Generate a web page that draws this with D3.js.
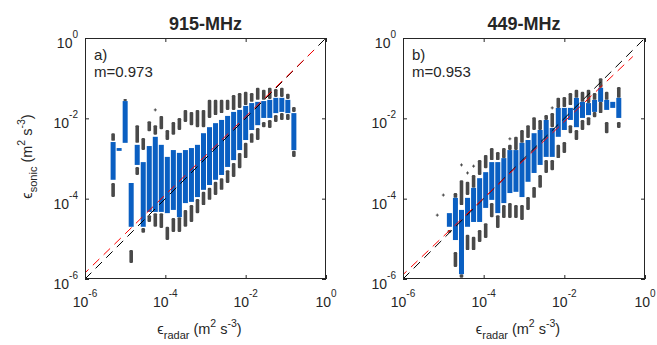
<!DOCTYPE html>
<html>
<head>
<meta charset="utf-8">
<script src="https://cdn.jsdelivr.net/npm/d3@7"></script>
<style>
  body { margin: 0; background: #fff; }
  text { font-family: "Liberation Sans", Arial, sans-serif; fill: #262626; }
</style>
</head>
<body>
<svg id="chart" width="657" height="345"></svg>
<script>
// all values are log10(epsilon)

// 915-MHz
var bins915 = [-5.30,-5.15,-5.00,-4.85,-4.70,-4.55,-4.40,-4.25,-4.10,-3.95,-3.80,-3.65,-3.50,-3.35,-3.20,-3.05,
               -2.90,-2.75,-2.60,-2.45,-2.30,-2.15,-2.00,-1.85,-1.70,-1.55,-1.40,-1.25,-1.10,-0.95,-0.80];
var p95_915 = [-2.37,-2.74,-1.52,-3.61,-2.17,-2.49,-2.07,-2.17,-1.94,-2.29,-2.09,-1.99,-1.79,-1.84,-1.79,-1.79,
               -1.54,-1.54,-1.54,-1.54,-1.42,-1.37,-1.34,-1.37,-1.24,-1.29,-1.24,-1.27,-1.24,-1.39,-1.72];
var p90_915 = [-2.56,-2.74,-1.57,-3.61,-2.61,-2.79,-2.32,-2.41,-2.27,-2.54,-2.41,-2.29,-2.09,-2.17,-2.22,-2.22,
               -1.99,-1.92,-1.87,-1.79,-1.79,-1.74,-1.67,-1.59,-1.54,-1.54,-1.52,-1.47,-1.47,-1.52,-1.84];
var p75_915 = [-2.59,-2.74,-1.57,-3.61,-2.66,-3.09,-2.69,-2.46,-2.66,-2.96,-2.79,-2.86,-2.79,-2.74,-2.66,-2.37,
               -2.22,-2.12,-2.04,-1.94,-1.84,-1.79,-1.69,-1.62,-1.59,-1.57,-1.54,-1.49,-1.49,-1.54,-1.87];
var p25_915 = [-3.53,-2.81,-2.61,-4.70,-3.16,-4.70,-4.33,-4.33,-4.33,-4.36,-4.28,-4.46,-4.11,-4.08,-3.96,-3.78,
               -3.66,-3.53,-3.41,-3.21,-3.04,-2.79,-2.54,-2.29,-2.17,-1.99,-1.99,-1.87,-1.84,-1.87,-2.79];
var p10_915 = [-3.61,-2.81,-2.61,-5.28,-3.21,-4.73,-4.41,-4.36,-4.36,-4.70,-4.48,-4.46,-4.28,-4.16,-4.01,-3.83,
               -3.73,-3.58,-3.49,-3.29,-3.11,-2.86,-2.61,-2.37,-2.24,-2.09,-2.04,-1.92,-1.87,-1.89,-2.81];
var p05_915 = [-3.96,-2.81,-2.61,-5.60,-3.41,-4.85,-4.58,-4.70,-4.73,-5.03,-4.83,-4.83,-4.70,-4.58,-4.36,-4.16,
               -4.03,-3.91,-3.78,-3.61,-3.46,-3.24,-2.99,-2.61,-2.54,-2.22,-2.24,-2.09,-2.04,-2.04,-2.96];
var outX915 = [-4.25,-3.95,-3.65,-3.20,-2.90,-2.75];
var outY915 = [-1.79,-2.44,-2.21,-2.04,-1.71,-1.71];

// 449-MHz
var bins449 = [-4.85,-4.70,-4.55,-4.40,-4.25,-4.10,-3.95,-3.80,-3.65,-3.50,-3.35,-3.20,-3.05,-2.90,-2.75,
               -2.60,-2.45,-2.30,-2.15,-2.00,-1.85,-1.70,-1.55,-1.40,-1.25,-1.10,-0.95,-0.80,-0.65];
var p95_449 = [-4.36,-3.86,-3.54,-3.58,-3.41,-3.04,-2.91,-2.74,-2.84,-2.74,-2.66,-2.46,-2.29,-2.17,-1.97,
               -2.04,-1.92,-1.87,-1.49,-1.47,-1.37,-1.29,-1.34,-1.29,-1.37,-1.00,-1.34,-1.59,-1.22];
var p90_449 = [-4.36,-3.98,-4.16,-3.91,-3.73,-3.41,-3.24,-3.04,-3.04,-2.99,-2.79,-2.79,-2.61,-2.49,-2.29,
               -2.29,-2.04,-2.22,-1.74,-1.72,-1.67,-1.49,-1.59,-1.62,-1.54,-1.24,-1.54,-1.59,-1.49];
var p75_449 = [-4.36,-3.98,-4.28,-3.98,-3.73,-3.49,-3.34,-3.09,-3.09,-2.99,-2.79,-2.79,-2.61,-2.54,-2.37,
               -2.29,-2.04,-2.24,-1.74,-1.74,-1.74,-1.49,-1.59,-1.62,-1.54,-1.24,-1.54,-1.59,-1.49];
var p25_449 = [-4.70,-5.03,-5.88,-4.70,-4.58,-4.58,-4.23,-4.03,-4.36,-4.11,-3.86,-3.83,-3.96,-3.58,-3.36,
               -3.16,-2.96,-2.96,-2.46,-2.29,-2.04,-2.22,-1.99,-1.92,-1.84,-1.59,-1.79,-1.74,-1.99];
var p10_449 = [-4.78,-5.33,-5.88,-4.90,-4.95,-4.78,-4.61,-4.11,-4.41,-4.16,-4.11,-4.16,-4.16,-3.96,-3.71,
               -3.41,-3.04,-3.04,-2.66,-2.59,-2.17,-2.29,-2.04,-1.97,-1.84,-1.59,-2.09,-1.74,-2.09];
var p05_449 = [-4.85,-5.70,-5.97,-5.28,-5.28,-5.08,-4.98,-4.46,-4.73,-4.48,-4.48,-4.48,-4.53,-4.28,-3.98,
               -3.73,-3.36,-3.29,-2.99,-2.86,-2.37,-2.54,-2.29,-2.17,-1.97,-1.87,-2.37,-1.74,-2.24];
var outX449 = [-5.15,-5.00,-4.55,-4.40,-4.25,-3.35,-2.30];
var outY449 = [-4.41,-3.91,-3.16,-3.36,-3.19,-2.51,-1.74];

var tickExp = [-6, -4, -2, 0];

var panels = [
  { title: '915-MHz', tag: 'a)', slope: 0.973, icpt: -0.01, left: 85, right: 326, ylab: true,
    bins: bins915, p95: p95_915, p90: p90_915, p75: p75_915, p25: p25_915, p10: p10_915, p05: p05_915,
    outX: outX915, outY: outY915 },
  { title: '449-MHz', tag: 'b)', slope: 0.953, icpt: -0.174, left: 403, right: 645, ylab: false,
    bins: bins449, p95: p95_449, p90: p90_449, p75: p75_449, p25: p25_449, p10: p10_449, p05: p05_449,
    outX: outX449, outY: outY449 }
];

var TOP = 38, BOTTOM = 279;
var BLUE = '#0a5fc2', GRAY = '#494949';
var svg = d3.select('#chart');
function p10(e) { return Math.pow(10, e); }

panels.forEach(function(P, k) {
  var x = d3.scaleLog().domain([1e-6, 1]).range([P.left, P.right]);
  var y = d3.scaleLog().domain([1e-6, 1]).range([BOTTOM, TOP]);
  var g = svg.append('g');

  svg.append('clipPath').attr('id', 'clip' + k)
    .append('rect').attr('x', P.left).attr('y', TOP)
    .attr('width', P.right - P.left).attr('height', BOTTOM - TOP);

  var plot = g.append('g').attr('clip-path', 'url(#clip' + k + ')');

  var idx = d3.range(P.bins.length);

  // gray whisker pieces
  function seg(a, b) {
    plot.append('g').selectAll('rect')
      .data(idx.filter(function(i) { return Math.abs(a[i] - b[i]) > 0.01; }))
      .enter().append('rect')
      .attr('x', function(i) { return x(p10(P.bins[i])) - 1.8; })
      .attr('width', 3.6)
      .attr('y', function(i) { return y(p10(Math.max(a[i], b[i]))); })
      .attr('height', function(i) { return Math.abs(y(p10(a[i])) - y(p10(b[i]))); })
      .attr('rx', 1.2)
      .attr('fill', GRAY);
  }
  seg(P.p90, P.p95);
  seg(P.p05, P.p10);

  // blue boxes
  plot.append('g').selectAll('rect')
    .data(idx)
    .enter().append('rect')
    .attr('x', function(i) { return x(p10(P.bins[i])) - 2.5; })
    .attr('width', 5)
    .attr('y', function(i) { return y(p10(P.p75[i])); })
    .attr('height', function(i) { return Math.max(2, y(p10(P.p25[i])) - y(p10(P.p75[i]))); })
    .attr('fill', BLUE);

  // outliers
  var oi = d3.range(P.outX.length);
  plot.append('g').selectAll('path')
    .data(oi)
    .enter().append('path')
    .attr('d', function(i) {
      var cx = x(p10(P.outX[i])), cy = y(p10(P.outY[i]));
      return 'M' + (cx - 1.5) + ',' + cy + 'h3M' + cx + ',' + (cy - 1.5) + 'v3';
    })
    .attr('stroke', GRAY).attr('stroke-width', 1);

  // 1:1 line and fit
  plot.append('line')
    .attr('x1', x(1e-6)).attr('y1', y(1e-6)).attr('x2', x(1)).attr('y2', y(1))
    .attr('stroke', '#000').attr('stroke-width', 1).attr('stroke-dasharray', '9,6');
  var fx = [1e-6, 0.5];
  plot.append('line')
    .attr('x1', x(fx[0])).attr('y1', y(p10(P.icpt) * Math.pow(fx[0], P.slope)))
    .attr('x2', x(fx[1])).attr('y2', y(p10(P.icpt) * Math.pow(fx[1], P.slope)))
    .attr('stroke', '#ff0000').attr('stroke-width', 1).attr('stroke-dasharray', '9,6')
    .attr('stroke-dashoffset', 4);

  // frame and ticks
  var tv = tickExp.map(p10);
  function ax(gen, tx, ty) {
    var a = g.append('g').attr('transform', 'translate(' + tx + ',' + ty + ')')
      .call(gen.tickValues(tv).tickSizeInner(-4).tickSizeOuter(0).tickFormat(''));
    a.select('.domain').remove();
    a.selectAll('line').attr('stroke', '#262626');
  }
  ax(d3.axisBottom(x), 0, BOTTOM);
  ax(d3.axisTop(x), 0, TOP);
  ax(d3.axisLeft(y), P.left, 0);
  ax(d3.axisRight(y), P.right, 0);

  g.append('rect')
    .attr('x', P.left + 0.5).attr('y', TOP + 0.5)
    .attr('width', P.right - P.left - 1).attr('height', BOTTOM - TOP - 1)
    .attr('fill', 'none').attr('stroke', '#262626').attr('stroke-width', 1);

  // tick labels
  tickExp.forEach(function(e) {
    var t = g.append('text')
      .attr('x', x(p10(e))).attr('y', BOTTOM + 28)
      .attr('text-anchor', 'middle').attr('font-size', 14).text('10');
    t.append('tspan').attr('dy', -10).attr('font-size', 10).text(e);

    var t2 = g.append('text')
      .attr('x', P.left - 7).attr('y', y(p10(e)) + 10)
      .attr('text-anchor', 'end').attr('font-size', 14).text('10');
    t2.append('tspan').attr('dy', -10).attr('font-size', 10).text(e);
  });

  // title
  g.append('text')
    .attr('x', (P.left + P.right) / 2).attr('y', 30)
    .attr('text-anchor', 'middle').attr('font-size', 18).attr('font-weight', 'bold')
    .attr('fill', '#000').text(P.title);

  // panel tag and slope
  g.append('text').attr('x', P.left + 9).attr('y', 60).attr('font-size', 15).attr('fill', '#000').text(P.tag);
  g.append('text').attr('x', P.left + 9).attr('y', 77).attr('font-size', 15).attr('fill', '#000')
    .text('m=' + P.slope.toFixed(3));

  // x label
  var xl = g.append('text')
    .attr('x', (P.left + P.right) / 2 - 6).attr('y', 334)
    .attr('text-anchor', 'middle').attr('font-size', 14.5);
  xl.append('tspan').text('\u03f5');
  xl.append('tspan').attr('dy', 5).attr('font-size', 11).text('radar');
  xl.append('tspan').attr('dy', -5).text(' (m');
  xl.append('tspan').attr('dy', -7).attr('font-size', 10.5).text('2');
  xl.append('tspan').attr('dy', 7).text(' s');
  xl.append('tspan').attr('dy', -7).attr('font-size', 10.5).text('-3');
  xl.append('tspan').attr('dy', 7).text(')');

  if (P.ylab) {
    var yl = g.append('text')
      .attr('transform', 'translate(32,' + ((TOP + BOTTOM) / 2 - 2) + ') rotate(-90)')
      .attr('text-anchor', 'middle').attr('font-size', 14.5);
    yl.append('tspan').text('\u03f5');
    yl.append('tspan').attr('dy', 5).attr('font-size', 11).text('sonic');
    yl.append('tspan').attr('dy', -5).text(' (m');
    yl.append('tspan').attr('dy', -7).attr('font-size', 10.5).text('2');
    yl.append('tspan').attr('dy', 7).text(' s');
    yl.append('tspan').attr('dy', -7).attr('font-size', 10.5).text('-3');
    yl.append('tspan').attr('dy', 7).text(')');
  }
});
</script>
</body>
</html>
